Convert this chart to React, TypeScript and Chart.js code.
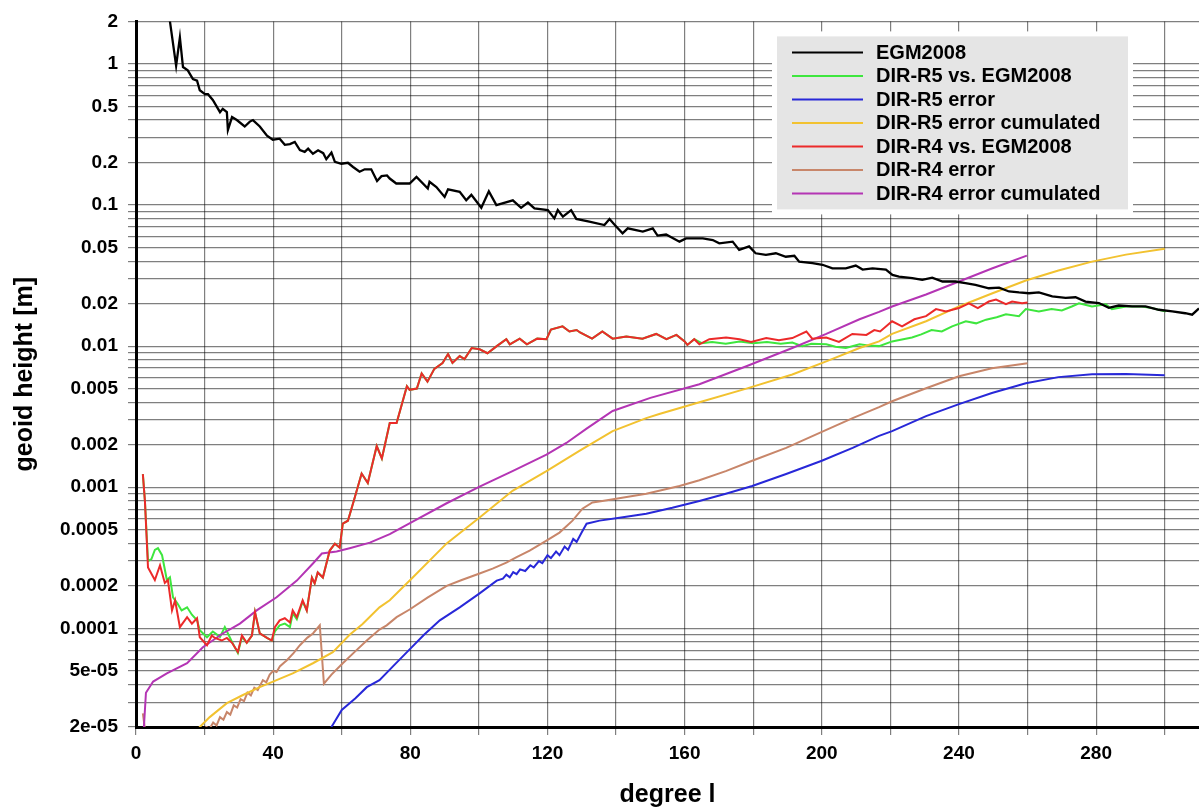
import React, { useEffect, useRef } from 'react';
import { Chart, registerables } from 'chart.js';
Chart.register(...registerables);

// ---------- data (degree l, geoid height [m]) ----------
const egmDeg = [2, 4, 6, 8, 9.9, 11.7, 12.8, 13.7, 15.1, 16.6, 17.8, 18.6, 20.1, 21, 22.4, 24.5, 25.3, 26.5, 26.8, 28, 29.4, 31.7, 33.2, 34.1, 36.1, 38.2, 39.9, 41.9, 43.4, 44.9, 46.3, 47.8, 49.2, 50.2, 51.6, 53.1, 54.6, 55.5, 57, 58, 59.9, 61.8, 63.3, 65.2, 66.7, 68.6, 70.3, 71.6, 73.2, 74, 75.9, 79.8, 81.8, 85.1, 85.6, 87.6, 90, 91, 94.4, 96.3, 97.8, 100.7, 102.9, 105.1, 109.9, 112.3, 114.3, 116.2, 120.1, 122, 123, 124.5, 126.9, 128.4, 132.2, 136.6, 138.1, 139.5, 141.9, 143.4, 147.8, 150.7, 152.1, 154.6, 158.5, 160.4, 165.3, 168.2, 170.1, 174, 175.9, 178.8, 180.7, 183.7, 186.6, 189.5, 192, 193.4, 197.3, 200.2, 203.1, 207, 209.9, 211.9, 214.8, 218.7, 220.6, 222.5, 226.4, 229.3, 232.2, 235.2, 239, 241.9, 244.8, 248.7, 251.7, 254.6, 257.5, 260.4, 263.3, 267.2, 271.1, 274, 276.9, 280.8, 283.7, 286.6, 290.5, 294.4, 298.3, 302.2, 306, 308, 310];
const egmVal = [40, 9, 4.5, 2.9, 2.0, 0.97, 1.54, 0.95, 0.9, 0.78, 0.76, 0.65, 0.61, 0.61, 0.555, 0.455, 0.48, 0.455, 0.34, 0.42, 0.40, 0.36, 0.39, 0.40, 0.36, 0.31, 0.29, 0.295, 0.267, 0.27, 0.28, 0.245, 0.238, 0.251, 0.231, 0.244, 0.233, 0.211, 0.235, 0.202, 0.196, 0.199, 0.186, 0.172, 0.179, 0.179, 0.148, 0.160, 0.162, 0.154, 0.142, 0.142, 0.158, 0.131, 0.146, 0.134, 0.114, 0.129, 0.124, 0.108, 0.118, 0.0955, 0.125, 0.0998, 0.108, 0.0955, 0.104, 0.0945, 0.092, 0.0804, 0.092, 0.0826, 0.092, 0.0797, 0.0762, 0.0721, 0.0797, 0.0728, 0.063, 0.0683, 0.0648, 0.0683, 0.0607, 0.0618, 0.055, 0.058, 0.058, 0.0565, 0.0535, 0.055, 0.0481, 0.0509, 0.0455, 0.0443, 0.0455, 0.043, 0.0437, 0.0397, 0.0388, 0.0377, 0.0356, 0.0356, 0.0372, 0.0349, 0.0356, 0.0349, 0.032, 0.0311, 0.0303, 0.0295, 0.0306, 0.0287, 0.0287, 0.028, 0.0272, 0.0257, 0.026, 0.0244, 0.024, 0.0237, 0.024, 0.0225, 0.022, 0.0222, 0.0207, 0.0202, 0.0187, 0.0194, 0.0191, 0.0191, 0.0181, 0.0176, 0.0171, 0.0167, 0.0185];

const r5DiffDeg = [2, 2.6, 3.5, 4.5, 5.5, 6.4, 7.6, 9, 9.9, 10.8, 12.1, 13.3, 14.9, 16.3, 17.8, 18.6, 20.7, 22.4, 24.5, 25.9, 28, 29.7, 30.9, 32.3, 33.8, 34.7, 36.1, 38.2, 39.6, 40.5, 41.9, 43.4, 44.9, 45.7, 46.9, 48.6, 49.8, 51.3, 52.1, 53, 54.5, 56.5, 58, 59.4, 60.3, 61.8, 63.5, 65.8, 67.6, 70.2, 71.7, 74, 76, 79, 79.8, 81.9, 83.3, 85, 87, 89.4, 91, 92.3, 94.4, 95.8, 97.9, 100.2, 102.5, 105.2, 108, 109, 111.9, 114, 117, 119.7, 121, 124.4, 126.4, 128.5, 129.5, 133, 136, 139, 143, 147.7, 151.7, 154.7, 157.6, 160, 160.8, 162.8, 165, 168, 172, 176, 180, 184, 188, 191.4, 194.3, 197, 201.3, 204, 207, 211, 213.5, 216.7, 220.5, 223, 226.3, 229, 232, 235, 238, 242, 245, 247.9, 251, 253.7, 257.5, 259.5, 263.3, 267, 270, 272.9, 275, 278.8, 282.8, 284.6, 288.7, 293.3, 296.2, 300.3];
const r5DiffVal = [0.00124, 0.0008, 0.0003, 0.00031, 0.00036, 0.00037, 0.00033, 0.00022, 0.00023, 0.000166, 0.00015, 0.000134, 0.000141, 0.000125, 0.000114, 9.7e-5, 8.65e-5, 9.5e-5, 8.7e-5, 0.000102, 8.0e-5, 6.7e-5, 8.7e-5, 7.9e-5, 8.9e-5, 0.00013, 9.2e-5, 8.55e-5, 8.2e-5, 9.5e-5, 0.000105, 0.000108, 0.000102, 0.000128, 0.000116, 0.000155, 0.000134, 0.000229, 0.000208, 0.000249, 0.000229, 0.000356, 0.000398, 0.000373, 0.000552, 0.000579, 0.0008, 0.00125, 0.00107, 0.00196, 0.0016, 0.00285, 0.00285, 0.0052, 0.0049, 0.005, 0.0064, 0.0056, 0.0069, 0.0076, 0.0088, 0.0076, 0.0085, 0.0081, 0.0097, 0.0095, 0.0089, 0.010, 0.0112, 0.0103, 0.0113, 0.0103, 0.0113, 0.0112, 0.0131, 0.0138, 0.0127, 0.013, 0.0125, 0.0113, 0.0127, 0.0113, 0.0117, 0.0113, 0.0122, 0.0112, 0.012, 0.0108, 0.0102, 0.0112, 0.0105, 0.0107, 0.0104, 0.0108, 0.0105, 0.0107, 0.0104, 0.0106, 0.010, 0.0104, 0.0103, 0.0099, 0.0097, 0.0103, 0.0101, 0.010, 0.0108, 0.0111, 0.0115, 0.0121, 0.013, 0.0127, 0.0138, 0.015, 0.0145, 0.0154, 0.016, 0.0168, 0.0163, 0.0183, 0.0176, 0.0183, 0.0179, 0.0191, 0.0201, 0.0191, 0.0198, 0.0183, 0.0191, 0.0191, 0.0186, 0.0176];

const r5ErrDeg = [54, 57, 60, 64, 67.3, 71, 75, 79.8, 84, 88.6, 94.4, 100.2, 105.2, 107, 108, 109, 110, 111, 112, 113.5, 115, 116, 117.5, 118.5, 120, 121, 122.5, 123.5, 125, 126, 127.5, 128.5, 130, 131.4, 135.2, 141, 148.8, 156.4, 164.3, 172, 179.7, 189.6, 200, 209, 216.7, 220.5, 230.4, 240, 249.6, 259.5, 269, 278.8, 288.7, 300];
const r5ErrVal = [1.6e-5, 2.0e-5, 2.64e-5, 3.2e-5, 3.83e-5, 4.3e-5, 5.4e-5, 7.1e-5, 9.0e-5, 0.000114, 0.000141, 0.000177, 0.000218, 0.000225, 0.00024, 0.00023, 0.00025, 0.000242, 0.000262, 0.000255, 0.00028, 0.00027, 0.0003, 0.00029, 0.00033, 0.000315, 0.00035, 0.00033, 0.00038, 0.00036, 0.00043, 0.00041, 0.00048, 0.000552, 0.00058, 0.000608, 0.00065, 0.000716, 0.0008, 0.0009, 0.00102, 0.00124, 0.00154, 0.0019, 0.00231, 0.0025, 0.00319, 0.00388, 0.00465, 0.00546, 0.00603, 0.00633, 0.00635, 0.00622];

const r5CumDeg = [17, 18.6, 21.5, 26.5, 31.2, 36.1, 41, 45.7, 51.6, 57.4, 62.3, 66, 71, 74, 80.7, 90.6, 100.2, 109.8, 119.7, 129.3, 139, 148.8, 152.6, 164.3, 178, 191.4, 201.3, 211, 216.7, 220.5, 230.4, 240, 249.6, 259.5, 269, 278.8, 288.7, 300];
const r5CumVal = [1.8e-5, 2.0e-5, 2.35e-5, 2.95e-5, 3.37e-5, 3.83e-5, 4.3e-5, 4.8e-5, 5.66e-5, 6.78e-5, 9.0e-5, 0.000107, 0.000141, 0.000158, 0.000229, 0.0004, 0.00061, 0.000944, 0.0013, 0.00181, 0.0025, 0.00309, 0.0033, 0.004, 0.005, 0.0063, 0.0078, 0.0097, 0.0108, 0.0122, 0.015, 0.0191, 0.0236, 0.0292, 0.0343, 0.0397, 0.0445, 0.049];

const r4DiffDeg = [2, 2.6, 3.5, 5.5, 7, 8.4, 9.3, 10.5, 11.4, 12.8, 14.9, 16.3, 17.8, 18.6, 20.7, 22.1, 23, 25, 26.5, 28, 29.7, 30.9, 32.3, 33.8, 34.7, 36.1, 38.2, 39.6, 40.5, 41.9, 43.4, 44.9, 45.7, 46.9, 48.6, 49.8, 51.3, 52.1, 53, 54.5, 56.5, 58, 59.4, 60.3, 61.8, 63.5, 65.8, 67.6, 70.2, 71.7, 74, 76, 79, 79.8, 81.9, 83.3, 85, 87, 89.4, 91, 92.3, 94.4, 95.8, 97.9, 100.2, 102.5, 105.2, 108, 109, 111.9, 114, 117, 119.7, 121, 124.4, 126.4, 128.5, 129.5, 133, 136, 139, 143, 147.7, 151.7, 154.7, 157.6, 160, 160.8, 162.8, 164.3, 167.2, 172.1, 176, 179.4, 183.8, 187.5, 191.4, 195.5, 197.2, 201.3, 205, 208.9, 213, 215.3, 217, 220.5, 223.4, 227, 230.4, 233.3, 236.2, 240, 242.9, 245.5, 248.7, 250.8, 253.7, 255.5, 258.4, 260];
const r4DiffVal = [0.00124, 0.0008, 0.00027, 0.00022, 0.00028, 0.00021, 0.00022, 0.000134, 0.000158, 0.000102, 0.00012, 0.000108, 0.000118, 8.65e-5, 7.6e-5, 8.9e-5, 8.55e-5, 8.2e-5, 8.55e-5, 7.9e-5, 6.8e-5, 8.9e-5, 7.9e-5, 8.9e-5, 0.00013, 9.2e-5, 8.55e-5, 8.2e-5, 0.000102, 0.000114, 0.000118, 0.00011, 0.000134, 0.00012, 0.000158, 0.000134, 0.000229, 0.000208, 0.000249, 0.000229, 0.000356, 0.000398, 0.000373, 0.000552, 0.000579, 0.0008, 0.00125, 0.00107, 0.00196, 0.0016, 0.00285, 0.00285, 0.0052, 0.0049, 0.005, 0.0064, 0.0056, 0.0069, 0.0076, 0.0088, 0.0076, 0.0085, 0.0081, 0.0097, 0.0095, 0.0089, 0.010, 0.0112, 0.0103, 0.0113, 0.0103, 0.0113, 0.0112, 0.0131, 0.0138, 0.0127, 0.013, 0.0125, 0.0113, 0.0127, 0.0113, 0.0117, 0.0113, 0.0122, 0.0112, 0.012, 0.0108, 0.0102, 0.0112, 0.0103, 0.0112, 0.0115, 0.0112, 0.0107, 0.0114, 0.011, 0.0114, 0.0127, 0.0113, 0.0115, 0.0107, 0.0122, 0.012, 0.013, 0.0127, 0.015, 0.0138, 0.0155, 0.0163, 0.0183, 0.0176, 0.0186, 0.0201, 0.0186, 0.0207, 0.0214, 0.0198, 0.0207, 0.0201, 0.0204];

const r4ErrDeg = [2, 3.2, 10, 18, 20.5, 21.5, 22.5, 23.5, 24.5, 25.5, 26.5, 27.5, 28.5, 29.5, 30.5, 31.5, 32.5, 33.5, 34.5, 35.5, 37, 38, 39, 40, 41, 42, 44, 46, 47.8, 50, 51.6, 53.6, 54.8, 57, 60.3, 64, 67.3, 71, 73.1, 76, 79.8, 85, 90.6, 95, 100.2, 104, 108, 111, 114.8, 119.7, 123.5, 127.3, 130.2, 133.1, 136, 140, 148.8, 158.5, 164.3, 172, 179.7, 189.6, 199.2, 209, 216.7, 220.5, 230.4, 240, 249.6, 260];
const r4ErrVal = [2.5e-5, 1.5e-5, 1.2e-5, 1.7e-5, 2.0e-5, 1.95e-5, 2.15e-5, 2.05e-5, 2.35e-5, 2.25e-5, 2.55e-5, 2.45e-5, 2.85e-5, 2.75e-5, 3.15e-5, 3.05e-5, 3.5e-5, 3.35e-5, 3.8e-5, 3.65e-5, 4.3e-5, 4.15e-5, 4.7e-5, 5.0e-5, 4.9e-5, 5.4e-5, 5.94e-5, 6.7e-5, 7.6e-5, 8.6e-5, 9.2e-5, 0.000105, 4.05e-5, 4.7e-5, 5.66e-5, 6.9e-5, 8.2e-5, 9.8e-5, 0.000105, 0.00012, 0.000136, 0.000165, 0.0002, 0.00022, 0.000245, 0.000265, 0.000292, 0.00032, 0.000356, 0.000419, 0.000477, 0.00058, 0.000705, 0.00078, 0.0008, 0.00083, 0.0009, 0.00102, 0.00112, 0.0013, 0.00154, 0.0019, 0.00242, 0.00309, 0.0037, 0.00407, 0.00503, 0.00612, 0.00697, 0.00757];

const r4CumDeg = [2, 2.9, 5, 9, 14.9, 19.5, 25.3, 30.3, 35.2, 41, 46.9, 51.6, 54.2, 58.5, 62.3, 68.2, 74, 80.7, 90.6, 100.2, 109.8, 119.7, 125.5, 131.4, 139, 150, 164.3, 178, 191.4, 201.3, 211, 216.7, 220.5, 230.4, 240, 249.6, 259.8];
const r4CumVal = [1.5e-5, 3.5e-5, 4.2e-5, 4.8e-5, 5.66e-5, 7.35e-5, 9.2e-5, 0.000108, 0.000134, 0.000166, 0.000218, 0.000288, 0.000339, 0.00035, 0.00037, 0.000405, 0.000465, 0.00057, 0.00077, 0.00101, 0.0013, 0.0017, 0.00206, 0.0026, 0.00347, 0.0043, 0.00537, 0.0072, 0.0097, 0.0122, 0.0155, 0.0175, 0.0191, 0.0232, 0.0287, 0.0355, 0.0438];

const seriesLabels = ['EGM2008', 'DIR-R5 vs. EGM2008', 'DIR-R5 error', 'DIR-R5 error cumulated', 'DIR-R4 vs. EGM2008', 'DIR-R4 error', 'DIR-R4 error cumulated'];
const seriesColors = ['#000000', '#3ee63e', '#2828d8', '#f2c230', '#ec2a2a', '#c8866a', '#b435b4'];

// ---------- ticks ----------
const xGridValues = [0, 20, 40, 60, 80, 100, 120, 140, 160, 180, 200, 220, 240, 260, 280, 300];
const xLabelValues = [0, 40, 80, 120, 160, 200, 240, 280];
const xLabelTexts = ['0', '40', '80', '120', '160', '200', '240', '280'];
const yGridValues = [2e-5, 3e-5, 4e-5, 5e-5, 6e-5, 7e-5, 8e-5, 9e-5, 1e-4, 2e-4, 3e-4, 4e-4, 5e-4, 6e-4, 7e-4, 8e-4, 9e-4, 1e-3, 2e-3, 3e-3, 4e-3, 5e-3, 6e-3, 7e-3, 8e-3, 9e-3, 0.01, 0.02, 0.03, 0.04, 0.05, 0.06, 0.07, 0.08, 0.09, 0.1, 0.2, 0.3, 0.4, 0.5, 0.6, 0.7, 0.8, 0.9, 1, 2];
const yLabelValues = [2, 1, 0.5, 0.2, 0.1, 0.05, 0.02, 0.01, 0.005, 0.002, 0.001, 0.0005, 0.0002, 0.0001, 5e-5, 2e-5];
const yLabelTexts = ['2', '1', '0.5', '0.2', '0.1', '0.05', '0.02', '0.01', '0.005', '0.002', '0.001', '0.0005', '0.0002', '0.0001', '5e-05', '2e-05'];

const FONT = "'Liberation Sans', Arial, sans-serif";

function zip(d: number[], v: number[]) {
  return d.map((x, i) => ({ x, y: v[i] }));
}

const legendPlugin = {
  id: 'boxLegend',
  afterDraw(chart: any) {
    const ctx = chart.ctx;
    const ca = chart.chartArea;
    const left = ca.right - 422;
    const top = ca.top + 15;
    const w = 351;
    const h = 173;
    ctx.save();
    ctx.fillStyle = '#ffffff';
    ctx.fillRect(left - 5, top - 5, w + 10, h + 10);
    ctx.fillStyle = '#e5e5e5';
    ctx.fillRect(left, top, w, h);
    ctx.font = `bold 20px ${FONT}`;
    ctx.textBaseline = 'middle';
    ctx.textAlign = 'left';
    chart.data.datasets.forEach((ds: any, i: number) => {
      const y = top + 16 + i * 23.5;
      ctx.strokeStyle = ds.borderColor;
      ctx.lineWidth = 2;
      ctx.beginPath();
      ctx.moveTo(left + 15, y);
      ctx.lineTo(left + 86, y);
      ctx.stroke();
      ctx.fillStyle = '#000';
      ctx.fillText(ds.label, left + 99, y + 1);
    });
    ctx.restore();
  },
};

export default function App() {
  const ref = useRef<HTMLCanvasElement>(null);
  useEffect(() => {
    if (!ref.current) return;
    const pairs: [number[], number[]][] = [
      [egmDeg, egmVal], [r5DiffDeg, r5DiffVal], [r5ErrDeg, r5ErrVal], [r5CumDeg, r5CumVal],
      [r4DiffDeg, r4DiffVal], [r4ErrDeg, r4ErrVal], [r4CumDeg, r4CumVal],
    ];
    const orders = [0, 6, 3, 4, 1, 5, 2];
    const datasets = pairs.map((p, i) => ({
      label: seriesLabels[i],
      data: zip(p[0], p[1]),
      borderColor: seriesColors[i],
      backgroundColor: seriesColors[i],
      borderWidth: i === 0 ? 2.3 : 2,
      pointRadius: 0,
      tension: 0,
      fill: false,
      order: orders[i],
    }));
    const gridColor = 'rgba(0,0,0,0.5)';
    const chart = new Chart(ref.current, {
      type: 'line',
      data: { datasets },
      plugins: [legendPlugin],
      options: {
        animation: false,
        responsive: false,
        devicePixelRatio: 1,
        layout: { padding: { top: 19, right: 0, left: 0, bottom: 0 } },
        plugins: { legend: { display: false }, tooltip: { enabled: false } },
        scales: {
          x: {
            type: 'linear',
            min: 0,
            max: 310,
            afterBuildTicks: (s: any) => { s.ticks = xGridValues.map((v) => ({ value: v })); },
            afterFit: (s: any) => { s.height = 80; },
            grid: { color: gridColor, lineWidth: 1.2, tickLength: 8, tickColor: gridColor },
            border: { display: true, color: '#000', width: 3 },
            ticks: {
              autoSkip: false,
              maxRotation: 0,
              padding: 7,
              color: '#000',
              font: { family: FONT, size: 19, weight: 'bold' },
              callback: (v: any) => {
                const i = xLabelValues.indexOf(Number(v));
                return i >= 0 ? xLabelTexts[i] : '';
              },
            },
            title: {
              display: true,
              text: 'degree l',
              color: '#000',
              font: { family: FONT, size: 25, weight: 'bold', lineHeight: 1 },
              padding: { top: 0, bottom: -1 },
            },
          },
          y: {
            type: 'logarithmic',
            min: 2e-5,
            max: 2,
            afterBuildTicks: (s: any) => { s.ticks = yGridValues.map((v) => ({ value: v })); },
            afterFit: (s: any) => { s.width = 136; },
            grid: { color: gridColor, lineWidth: 1.2, tickLength: 8, tickColor: gridColor },
            border: { display: true, color: '#000', width: 3 },
            ticks: {
              autoSkip: false,
              padding: 10,
              color: '#000',
              font: { family: FONT, size: 19, weight: 'bold' },
              callback: (v: any) => {
                const n = Number(v);
                const i = yLabelValues.findIndex((t) => Math.abs(t - n) / t < 1e-6);
                return i >= 0 ? yLabelTexts[i] : '';
              },
            },
            title: {
              display: true,
              text: 'geoid height [m]',
              color: '#000',
              font: { family: FONT, size: 25, weight: 'bold', lineHeight: 1 },
              padding: { top: 13, bottom: 0 },
            },
          },
        },
      } as any,
    });
    return () => chart.destroy();
  }, []);
  return (
    <div style={{ width: 1199, height: 807 }}>
      <style>{'body{margin:0;}'}</style>
      <canvas ref={ref} width={1199} height={807} style={{ display: 'block' }} />
    </div>
  );
}
